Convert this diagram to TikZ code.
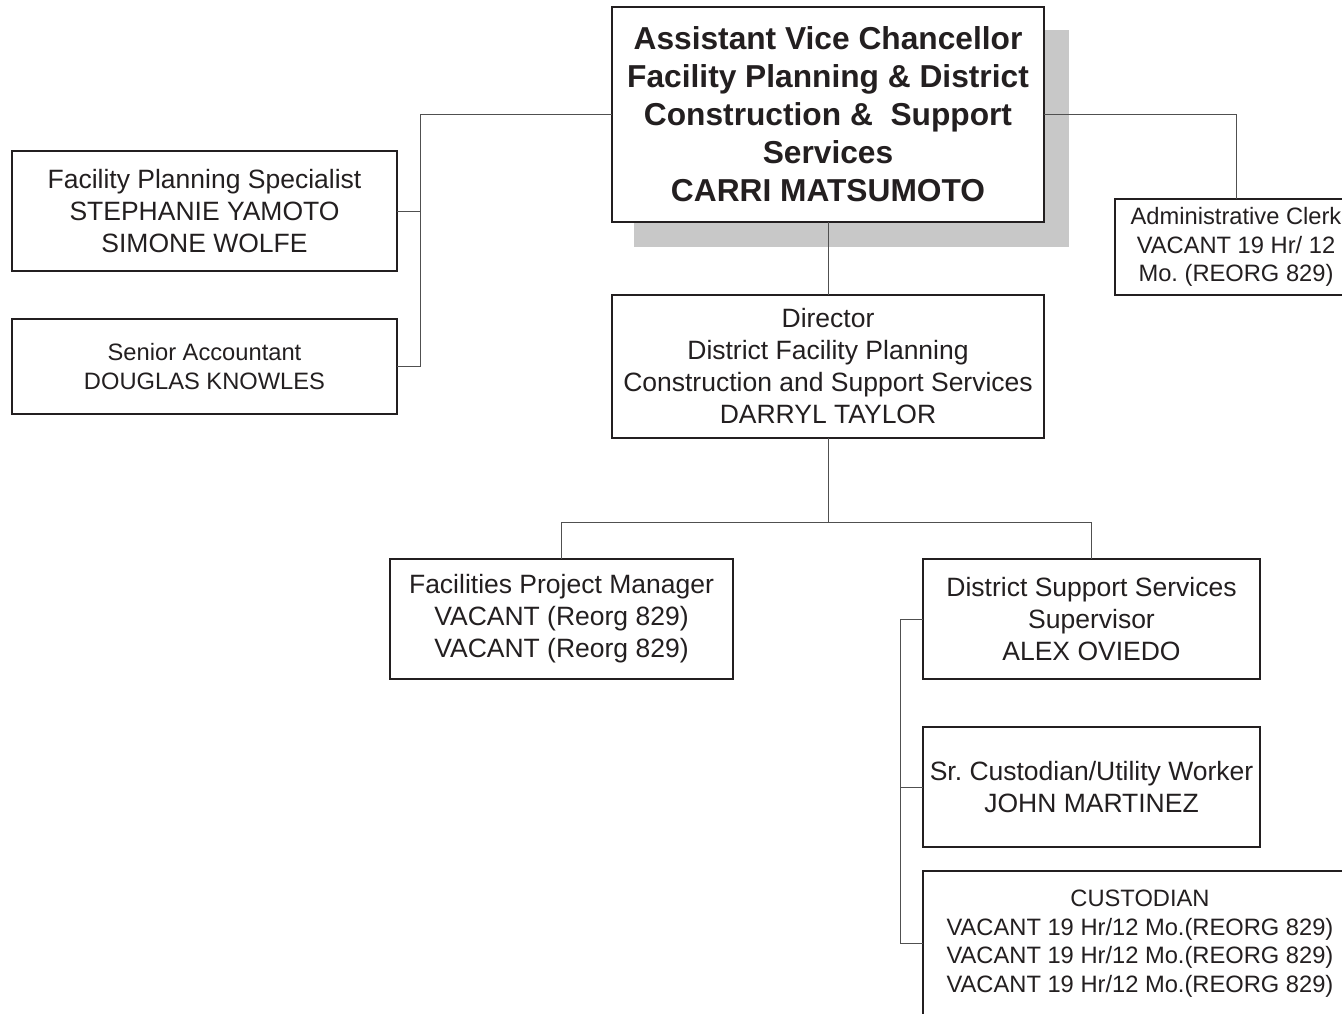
\documentclass[tikz,border=0pt]{standalone}
\usepackage{fontspec}
\setmainfont{Liberation Sans}
\frenchspacing
\definecolor{ink}{HTML}{231F20}
\definecolor{shadowgray}{HTML}{C8C8C8}
\definecolor{wire}{HTML}{505050}
\begin{document}
\begin{tikzpicture}[x=1pt,y=-1pt,
  box/.style={draw=ink,line width=1.5pt,fill=white,rectangle,inner sep=0pt,outer sep=0pt,align=center,text=ink},
  big/.style={font=\fontsize{26.5}{32}\selectfont},
  small/.style={font=\fontsize{23.7}{28.5}\selectfont},
  title/.style={font=\fontsize{31.7}{38}\selectfont\bfseries},
  conn/.style={draw=wire,line width=1pt}]
\useasboundingbox (0,0) rectangle (1342,1013);
\clip (0,0) rectangle (1342,1013);
% shadow of top box
\fill[fill=shadowgray] (634,30) rectangle (1069,247);
\node[box,title,minimum width=432pt,minimum height=215pt] (top) at (828,114.5)
  {Assistant Vice Chancellor\\Facility Planning \& District\\Construction \&\ \ Support\\Services\\CARRI MATSUMOTO};
\node[box,big,minimum width=385pt,minimum height=120pt] (fps) at (204.5,211)
  {Facility Planning Specialist\\STEPHANIE YAMOTO\\SIMONE WOLFE};
\node[box,small,minimum width=385pt,minimum height=95pt] (sa) at (204.5,366.5)
  {Senior Accountant\\DOUGLAS KNOWLES};
\node[box,small,minimum width=242pt,minimum height=96pt] (adm) at (1236,247)
  {Administrative Clerk\\VACANT 19 Hr/ 12\\Mo.\ (REORG 829)};
\node[box,big,minimum width=432pt,minimum height=143pt] (dir) at (828,366.5)
  {Director\\District Facility Planning\\Construction and Support Services\\DARRYL TAYLOR};
\node[box,big,minimum width=343pt,minimum height=120pt] (fpm) at (561.5,619)
  {Facilities Project Manager\\VACANT (Reorg 829)\\VACANT (Reorg 829)};
\node[box,big,minimum width=337pt,minimum height=120pt] (dss) at (1091.5,619)
  {District Support Services\\Supervisor\\ALEX OVIEDO};
\node[box,big,minimum width=337pt,minimum height=120pt] (sc) at (1091.5,787)
  {Sr.\ Custodian/Utility Worker\\JOHN MARTINEZ};
\node[box,small,minimum width=434pt,minimum height=145pt] (cust) at (1140,943.5)
  {CUSTODIAN\\VACANT 19 Hr/12 Mo.(REORG 829)\\VACANT 19 Hr/12 Mo.(REORG 829)\\VACANT 19 Hr/12 Mo.(REORG 829)};
% connectors
\coordinate (lb) at (420,366.5);
\draw[conn] (top.west) -| (lb) -- (sa.east);
\draw[conn] (fps.east) -- (fps.east -| lb);
\draw[conn] (top.east) -| (adm.north);
\draw[conn] (top.south) -- (dir.north);
\coordinate (split) at (828,522);
\draw[conn] (dir.south) -- (split);
\draw[conn] (fpm.north) |- (split) -| (dss.north);
\coordinate (rb) at (900,619);
\draw[conn] (dss.west) -- (rb) |- (cust.west);
\draw[conn] (sc.west) -- (sc.west -| rb);
\end{tikzpicture}
\end{document}
